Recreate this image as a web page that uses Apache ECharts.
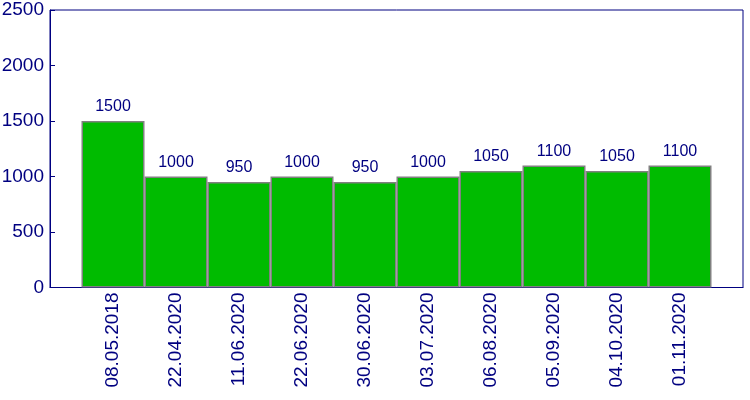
<!DOCTYPE html>
<html>
<head>
<meta charset="utf-8">
<script src="https://cdn.jsdelivr.net/npm/echarts@6/dist/echarts.min.js"></script>
<style>
  html, body { margin: 0; padding: 0; background: #fff; }
  #chart { width: 750px; height: 400px; }
</style>
</head>
<body>
<div id="chart"></div>
<script>
var dates = ['08.05.2018', '22.04.2020', '11.06.2020', '22.06.2020', '30.06.2020',
  '03.07.2020', '06.08.2020', '05.09.2020', '04.10.2020', '01.11.2020'];
var values = [1500, 1000, 950, 1000, 950, 1000, 1050, 1100, 1050, 1100];
var yTicks = [0, 500, 1000, 1500, 2000, 2500];

(function() {
  var chart = echarts.init(document.getElementById('chart'));
  var navy = '#000080';
  // empty slot on each side so the bars sit one band in from the frame
  var cats = [''].concat(dates, ['']);
  var data = ['-'].concat(values, ['-']);

  chart.setOption({
    animation: false,
    grid: {
      left: 50, right: 7, top: 10, bottom: 112.5,
      outerBoundsMode: 'none', containLabel: false,
      show: true, borderColor: navy, borderWidth: 1
    },
    xAxis: {
      type: 'category',
      data: cats,
      boundaryGap: false,
      axisLine: { lineStyle: { color: navy } },
      axisTick: { show: false },
      axisLabel: {
        rotate: 90, margin: 5, interval: 0,
        color: navy, fontSize: 19, fontFamily: 'Liberation Sans'
      }
    },
    yAxis: {
      type: 'value',
      min: yTicks[0], max: yTicks[yTicks.length - 1], interval: 500,
      splitLine: { show: false },
      axisLine: { show: true, lineStyle: { color: navy } },
      axisTick: { show: true, inside: true, length: 5, lineStyle: { color: navy } },
      axisLabel: {
        margin: 6, color: navy, fontSize: 19, fontFamily: 'Liberation Sans',
        padding: [0, 0, 4, 0],
        formatter: function(v) { return String(v); }
      }
    },
    series: [{
      type: 'bar',
      data: data,
      barWidth: '100%',
      itemStyle: { color: '#00BB00', borderColor: '#808080', borderWidth: 1.5 },
      label: {
        show: true, position: 'top', distance: 6,
        color: navy, fontSize: 16, fontFamily: 'Liberation Sans'
      }
    }]
  });
})();
</script>
</body>
</html>
